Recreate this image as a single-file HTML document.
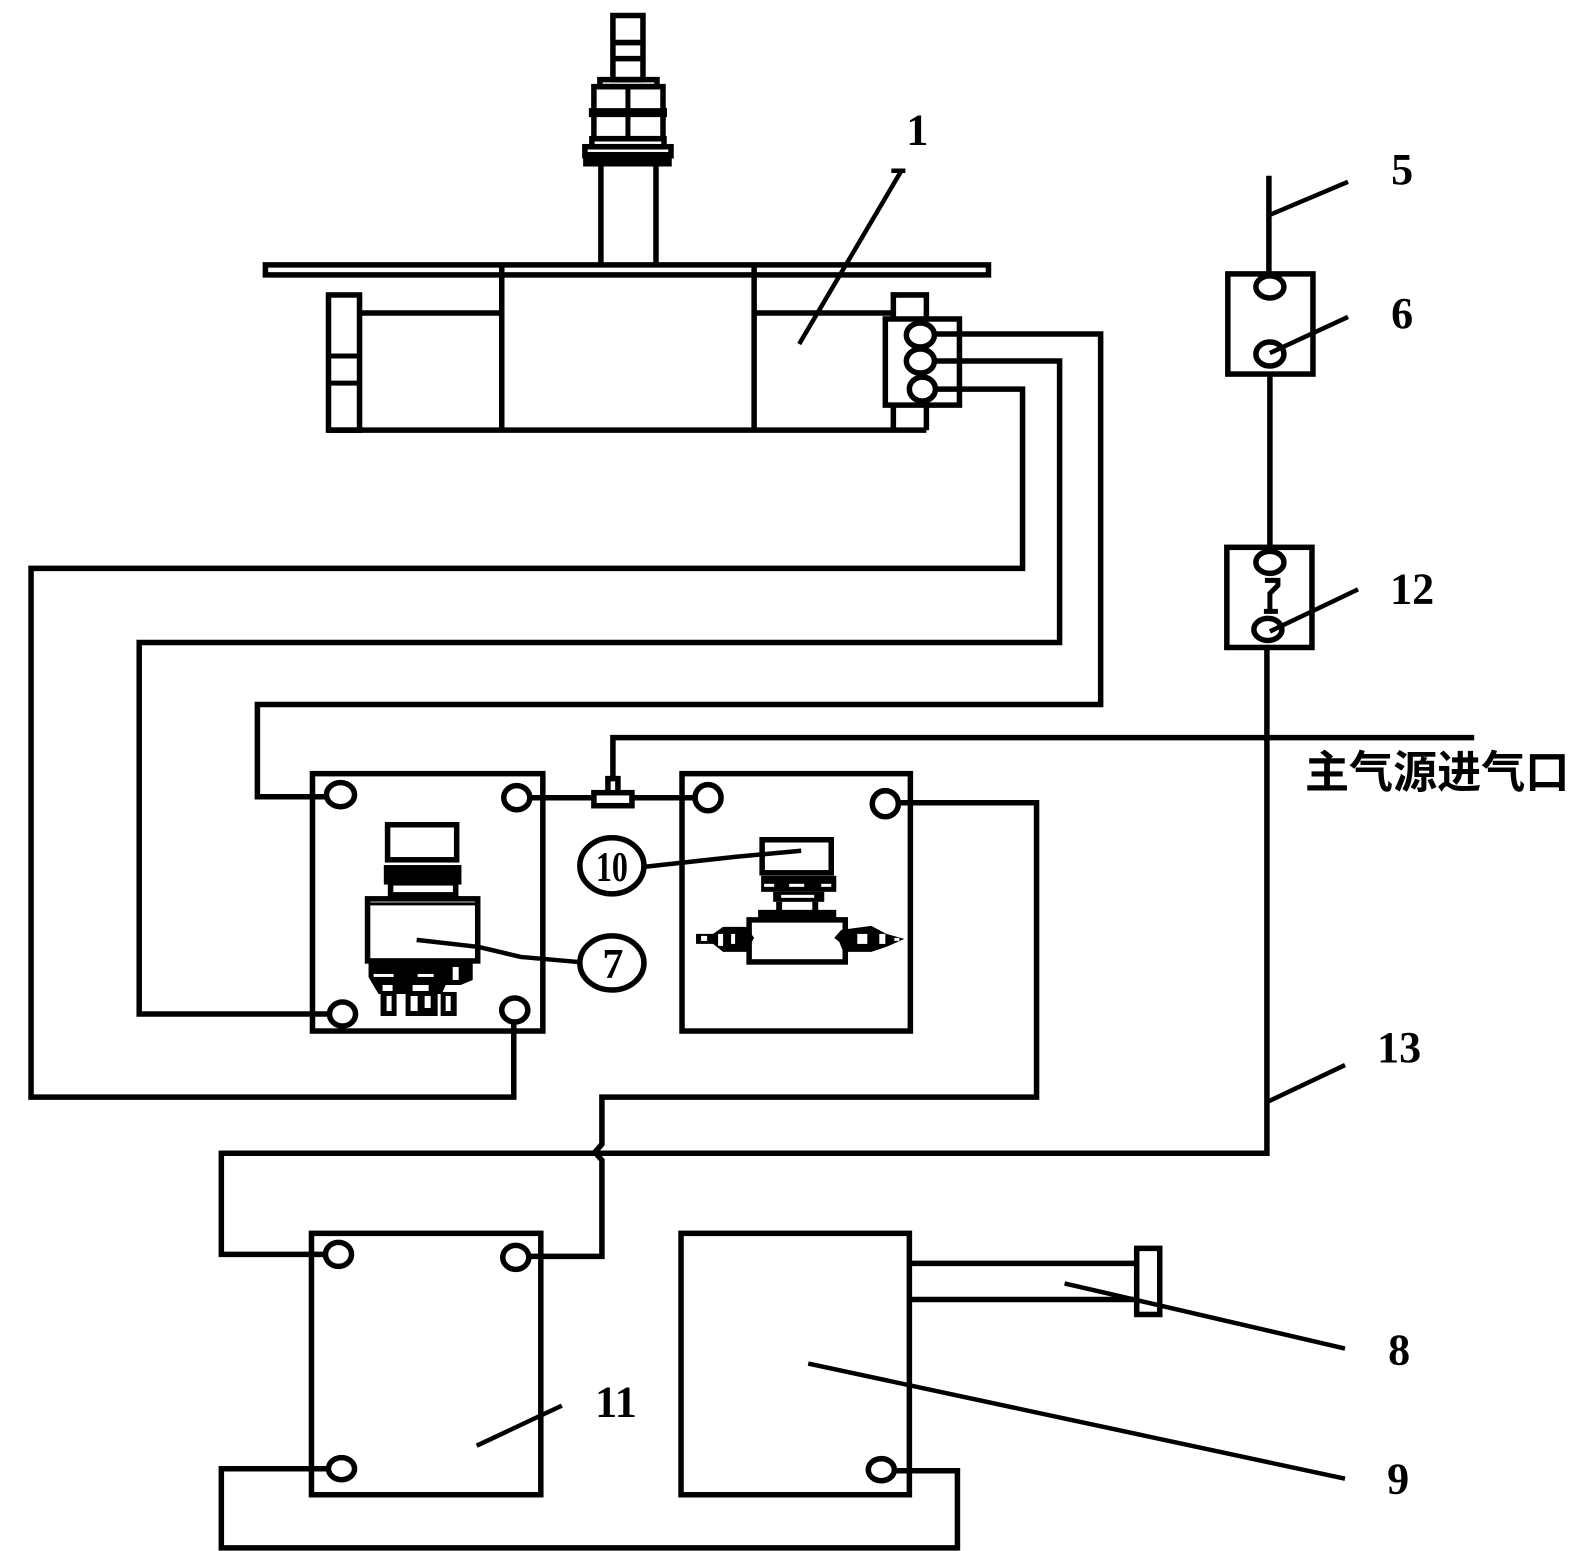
<!DOCTYPE html>
<html><head><meta charset="utf-8"><style>
html,body{margin:0;padding:0;background:#fff}
svg{display:block}
text{font-family:"Liberation Serif","Noto Serif CJK SC",serif;font-weight:bold;fill:#000;text-anchor:middle}
</style></head><body>
<svg width="1570" height="1551" viewBox="0 0 1570 1551" xmlns="http://www.w3.org/2000/svg">
<g transform="translate(0,0.5) scale(1.0015)">
<g fill="none" stroke="#000" stroke-width="5.5">
<!-- top assembly -->
<rect x="612" y="15" width="30" height="64"/>
<path d="M612 42H642M614 58H640"/>
<path d="M599 79H656V86H599Z"/>
<rect x="593" y="86" width="69" height="52"/>
<path d="M627 86V138" stroke-width="5"/>
<path d="M588 112H666" stroke-width="9"/>
<rect x="591" y="138" width="72" height="8"/>
<rect x="584" y="146" width="86" height="9"/>
<rect x="585" y="154" width="83" height="9" fill="#000"/>
<path d="M600 163V263M655 163V263"/>
<rect x="265" y="264" width="722" height="10"/>
<path d="M501 266V429M753 266V429"/>
<rect x="328" y="294" width="31" height="135"/>
<path d="M328 355H359M328 382H359" stroke-width="5"/>
<path d="M359 312H501M753 312H892"/>
<path d="M328 429H925"/>
<path d="M892 318V294H925V318M892 404V429M925 404V429"/>
<rect x="884" y="318" width="74" height="86"/>
<ellipse cx="919" cy="334" rx="14" ry="12"/>
<ellipse cx="919" cy="360" rx="14" ry="12"/>
<ellipse cx="921" cy="388" rx="13" ry="12"/>
<!-- pipes -->
<path d="M933 333H1099V703H257V795H325"/>
<path d="M933 360H1058V641H139V1012H328"/>
<path d="M934 388H1021V567H31V1095H513V1022"/>
<!-- panel 7 -->
<rect x="312" y="772" width="230" height="257"/>
<ellipse cx="340" cy="793" rx="14" ry="12"/>
<ellipse cx="516" cy="796" rx="13" ry="12"/>
<ellipse cx="342" cy="1012" rx="13" ry="12"/>
<ellipse cx="514" cy="1008" rx="13" ry="12"/>
<rect x="387" y="823" width="69" height="35"/>
<rect x="386" y="866" width="72" height="14" fill="#000"/>
<rect x="390" y="881" width="65" height="12"/>
<rect x="367" y="897" width="110" height="62"/>
<path d="M367 902H477" stroke-width="3"/>
<path d="M416 938L478 945L520 955L577 960" stroke-width="4.5"/>
<ellipse cx="611" cy="961" rx="32" ry="27"/>
<ellipse cx="611" cy="864" rx="32" ry="28"/>
<path d="M644 865L735 855L800 849" stroke-width="4.5"/>
<!-- T fitting -->
<path d="M530 796H593M632 796H695"/>
<rect x="593" y="791" width="38" height="13"/>
<path d="M607 791V777H617V791"/>
<path d="M612 777V736H1472"/>
<!-- panel 10 -->
<rect x="681" y="772" width="228" height="257"/>
<ellipse cx="707" cy="796" rx="13" ry="13"/>
<ellipse cx="884" cy="802" rx="13" ry="13"/>
<rect x="761" y="838" width="69" height="33"/>
<rect x="748" y="918" width="96" height="42"/>
<!-- pipes lower -->
<path d="M897 801H1035V1095H601V1142L594 1150L601 1158V1254H527"/>
<path d="M1265 647V1151H221V1252H325"/>
<path d="M328 1466H221V1545H956V1468H893"/>
<!-- panel 11 and 9 -->
<rect x="311" y="1231" width="229" height="261"/>
<ellipse cx="338" cy="1252" rx="13" ry="12"/>
<ellipse cx="515" cy="1255" rx="13" ry="12"/>
<ellipse cx="341" cy="1466" rx="13" ry="11"/>
<rect x="680" y="1231" width="228" height="261"/>
<ellipse cx="880" cy="1467" rx="13" ry="11"/>
<path d="M908 1261H1135M908 1297H1135"/>
<rect x="1135" y="1246" width="23" height="66"/>
<!-- right column -->
<path d="M1267 175V274M1268 373V546"/>
<rect x="1226" y="273" width="85" height="100"/>
<ellipse cx="1268" cy="286" rx="14" ry="11"/>
<ellipse cx="1268" cy="353" rx="14" ry="12"/>
<rect x="1225" y="546" width="85" height="100"/>
<ellipse cx="1268" cy="561" rx="14" ry="11"/>
<ellipse cx="1266" cy="628" rx="14" ry="11"/>
<path d="M1263 579H1276V584L1268 592V608M1262 610H1276" stroke-width="5"/>
<!-- leaders -->
<g stroke-width="4.5">
<path d="M798 343L900 170M890 170H904"/>
<path d="M1268 214L1346 181"/>
<path d="M1268 352L1346 316"/>
<path d="M1268 630L1356 588"/>
<path d="M1265 1100L1343 1063"/>
<path d="M1063 1281L1343 1346"/>
<path d="M807 1361L1343 1476"/>
<path d="M476 1443L561 1403"/>
</g>
</g>
<!-- component 7 terminals -->
<path fill="#000" d="M368 958H472V978L460 983H445L441 992H378L372 982L368 975Z"/>
<rect fill="#000" x="380" y="990" width="16" height="24"/>
<rect fill="#000" x="405" y="990" width="32" height="24"/>
<rect fill="#000" x="440" y="990" width="16" height="24"/>
<g fill="#fff">
<rect x="373" y="972" width="20" height="3"/>
<rect x="417" y="972" width="16" height="3"/>
<rect x="452" y="965" width="6" height="13"/>
<rect x="382" y="983" width="10" height="6"/>
<rect x="412" y="983" width="16" height="6"/>
<rect x="386" y="994" width="5" height="15"/>
<rect x="410" y="994" width="7" height="15"/>
<rect x="424" y="994" width="6" height="12"/>
<rect x="445" y="994" width="5" height="15"/>
</g>
<!-- component 10 head and fittings -->
<rect fill="#000" x="760" y="874" width="75" height="16"/>
<rect fill="#000" x="772" y="890" width="51" height="10"/>
<rect fill="#000" x="775" y="900" width="6" height="9"/>
<rect fill="#000" x="811" y="900" width="6" height="9"/>
<rect fill="#000" x="757" y="908" width="78" height="10"/>
<path fill="#000" d="M695 932H712L722 925H745L753 936L745 950H722L712 942H695Z"/>
<path fill="#000" d="M833 936L840 928L870 924L885 932L903 937L885 945L870 950H842L838 940Z"/>
<g fill="#fff">
<rect x="763" y="882" width="10" height="3"/>
<rect x="788" y="882" width="15" height="3"/>
<rect x="820" y="882" width="10" height="3"/>
<rect x="780" y="893" width="33" height="3"/>
<rect x="781" y="901" width="30" height="6"/>
<rect x="700" y="934" width="6" height="5"/>
<rect x="717" y="932" width="5" height="12"/>
<rect x="730" y="932" width="4" height="10"/>
<rect x="856" y="932" width="10" height="10"/>
<rect x="878" y="932" width="6" height="10"/>
<rect x="893" y="936" width="5" height="3"/>
</g>
<text x="916" y="144" font-size="44">1</text>
<text x="1400" y="183" font-size="44">5</text>
<text x="1400" y="327" font-size="44">6</text>
<text x="1410" y="602" font-size="44">12</text>
<text x="1397" y="1060" font-size="44">13</text>
<text x="1397" y="1362" font-size="44">8</text>
<text x="1396" y="1491" font-size="44">9</text>
<text x="615" y="1414" font-size="44">11</text>
<text x="611" y="879" font-size="42" textLength="32" lengthAdjust="spacingAndGlyphs">10</text>
<text x="612" y="976" font-size="42">7</text>
<text x="1435" y="786" font-size="44" style="font-family:'Noto Sans CJK SC','Liberation Sans',sans-serif">主气源进气口</text>
</g>
</svg>
</body></html>
